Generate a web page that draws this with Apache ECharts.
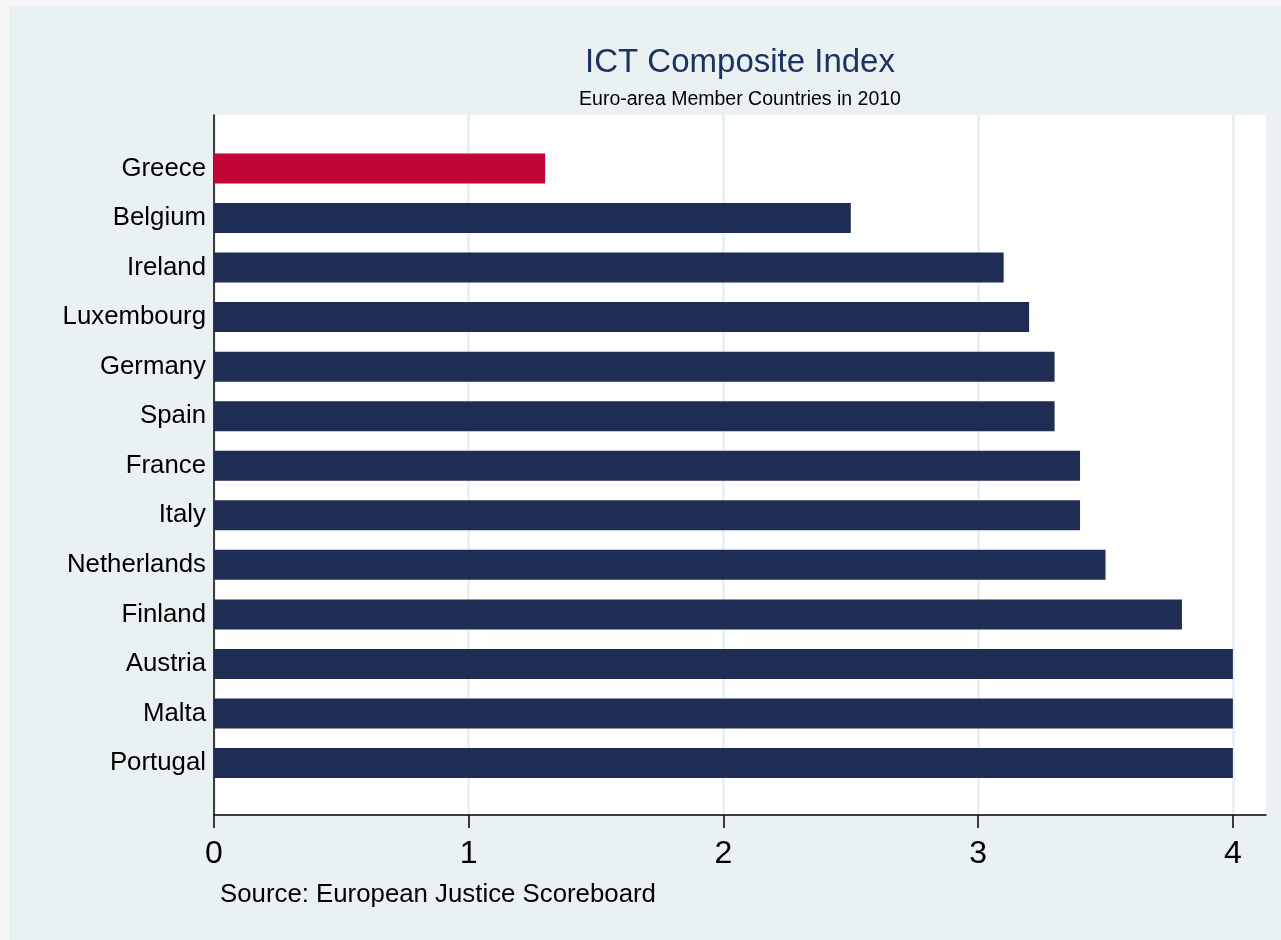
<!DOCTYPE html>
<html>
<head>
<meta charset="utf-8">
<script src="https://cdn.jsdelivr.net/npm/echarts@6/dist/echarts.min.js"></script>
<style>
  html, body { margin: 0; padding: 0; background: #f7f7f7; }
  #chart { position: absolute; left: 9px; top: 6px; width: 1272px; height: 934px; }
</style>
</head>
<body>
<div id="chart"></div>
<script>
  // data
  const countries = ['Greece', 'Belgium', 'Ireland', 'Luxembourg', 'Germany', 'Spain', 'France',
    'Italy', 'Netherlands', 'Finland', 'Austria', 'Malta', 'Portugal'];
  const ictIndex = [1.3, 2.5, 3.1, 3.2, 3.3, 3.3, 3.4, 3.4, 3.5, 3.8, 4.0, 4.0, 4.0];
  const xTicks = [0, 1, 2, 3, 4];
  const highlight = 'Greece';

  const FONT = '"Liberation Sans", Arial, sans-serif';
  const NAVY = '#1f2d55';
  const RED = '#c10534';
  const X_MAX = 4.13;

  let option = {
    backgroundColor: '#e9f1f3',
    textStyle: { fontFamily: FONT },
    title: [{
      text: 'ICT Composite Index',
      left: 731, top: 40, padding: 0,
      textAlign: 'center',
      textStyle: { color: '#1e3262', fontSize: 33, fontWeight: 'normal', fontFamily: FONT }
    }, {
      text: 'Euro-area Member Countries in 2010',
      left: 731, top: 84, padding: 0,
      textAlign: 'center',
      textStyle: { color: '#000', fontSize: 19.5, fontWeight: 'normal', fontFamily: FONT }
    }, {
      text: 'Source: European Justice Scoreboard',
      left: 211, top: 876, padding: 0,
      textStyle: { color: '#000', fontSize: 25.8, fontWeight: 'normal', fontFamily: FONT }
    }],
    grid: [
      // plot region (white) with the x axis
      { left: 205, right: 15, top: 109, bottom: 125, show: true, backgroundColor: '#fff', borderWidth: 0 },
      // bars
      { left: 205, right: 15, top: 137.7, bottom: 152.2 }
    ],
    xAxis: [{
      gridIndex: 0,
      type: 'value', min: 0, max: X_MAX, interval: 1,
      axisLine: { show: true, lineStyle: { color: '#000', width: 1.5 } },
      axisTick: { show: true, length: 13, lineStyle: { color: '#000', width: 1.5 }, customValues: xTicks },
      axisLabel: { color: '#000', fontSize: 32, margin: 23, customValues: xTicks },
      splitLine: { show: true, lineStyle: { color: '#e9f1f3', width: 3 } }
    }, {
      gridIndex: 1,
      type: 'value', min: 0, max: X_MAX,
      show: false
    }],
    yAxis: [{
      gridIndex: 0,
      type: 'value',
      axisLine: { show: true, lineStyle: { color: '#000', width: 1.5 } },
      axisTick: { show: false },
      axisLabel: { show: false },
      splitLine: { show: false }
    }, {
      gridIndex: 1,
      type: 'category',
      inverse: true,
      data: countries,
      axisLine: { show: false },
      axisTick: { show: false },
      axisLabel: { color: '#000', fontSize: 25.8, margin: 8, padding: [10, 0, 0, 0] }
    }],
    series: [{
      type: 'bar',
      xAxisIndex: 1,
      yAxisIndex: 1,
      barWidth: 30,
      data: ictIndex.map((v, i) => ({
        value: v,
        itemStyle: { color: countries[i] === highlight ? RED : NAVY }
      })),
      silent: true
    }]
  };

  const chart = echarts.init(document.getElementById('chart'));
  chart.setOption(option);
</script>
</body>
</html>
